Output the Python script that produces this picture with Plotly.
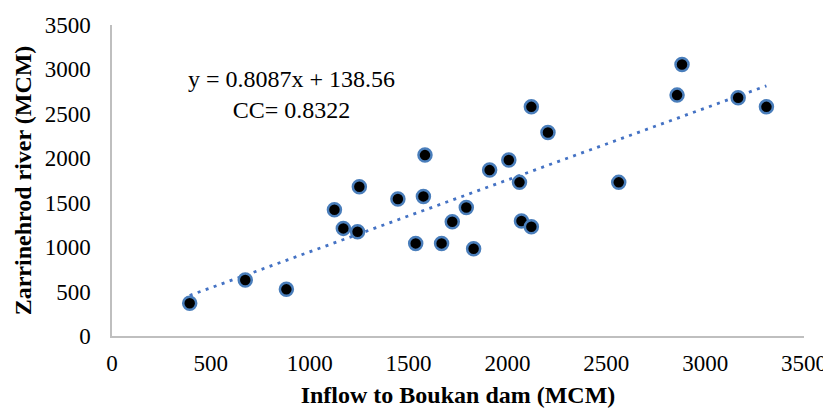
import plotly.graph_objects as go

# Data
inflow_boukan = [393, 674, 882, 1125, 1170, 1242, 1251, 1446, 1575, 1583, 1536, 1667,
                 1721, 1792, 1829, 1910, 2007, 2061, 2071, 2121, 2563,
                 2121, 2205, 2858, 2883, 3167, 3310]
zarrinehrod = [368, 630, 525, 1421, 1211, 1174, 1680, 1541, 1571, 2036, 1042, 1042,
               1286, 1447, 982, 1867, 1980, 1729, 1294, 1230, 1729,
               2579, 2291, 2711, 3056, 2681, 2579]

slope = 0.8087
intercept = 138.56
cc = 0.8322

x_ticks = [0, 500, 1000, 1500, 2000, 2500, 3000, 3500]
y_ticks = [0, 500, 1000, 1500, 2000, 2500, 3000, 3500]

x_title = "Inflow to Boukan dam (MCM)"
y_title = "Zarrinehrod river (MCM)"

font_family = "Liberation Serif, Times New Roman, serif"
blue = "#4a7ebb"

trend_x = [min(inflow_boukan), max(inflow_boukan)]
trend_y = [slope * v + intercept for v in trend_x]

fig = go.Figure()
fig.add_trace(go.Scatter(
    x=trend_x, y=trend_y, mode="lines",
    line=dict(color="#4472c4", width=2.8, dash="3px,5.5px"),
    hoverinfo="skip", showlegend=False,
))
fig.add_trace(go.Scatter(
    x=inflow_boukan, y=zarrinehrod, mode="markers",
    marker=dict(size=13, color="black", line=dict(color=blue, width=2.5)),
    showlegend=False,
))

fig.add_annotation(
    x=0.26, y=0.778, xref="paper", yref="paper",
    xanchor="center", yanchor="middle",
    text=f"y = {slope}x + {intercept}<br>CC= {cc}",
    showarrow=False, align="center",
    font=dict(family=font_family, size=24, color="black"),
)

# the page body adds an 8px offset; margins compensate for it
fig.update_layout(
    width=831, height=408,
    margin=dict(l=104, r=35, t=17, b=80),
    paper_bgcolor="white", plot_bgcolor="white",
    font=dict(family=font_family, size=23, color="black"),
)
fig.update_xaxes(
    range=[0, 3500], tickvals=x_ticks, showgrid=False, zeroline=False,
    showline=True, linecolor="#bfbfbf", linewidth=1.5, automargin=False,
    ticks="outside", ticklen=6, tickcolor="rgba(0,0,0,0)",
    tickfont=dict(family=font_family, size=23),
    title=dict(text=f"<b>{x_title}</b>", font=dict(family=font_family, size=24), standoff=11),
)
fig.update_yaxes(
    range=[0, 3500], tickvals=y_ticks, showgrid=False, zeroline=False,
    showline=True, linecolor="#bfbfbf", linewidth=1.5, automargin=False,
    ticks="outside", ticklen=15, tickcolor="rgba(0,0,0,0)",
    tickfont=dict(family=font_family, size=23),
    title=dict(text=f"<b>{y_title}</b>", font=dict(family=font_family, size=24), standoff=6),
)

fig.write_html("out.html")
